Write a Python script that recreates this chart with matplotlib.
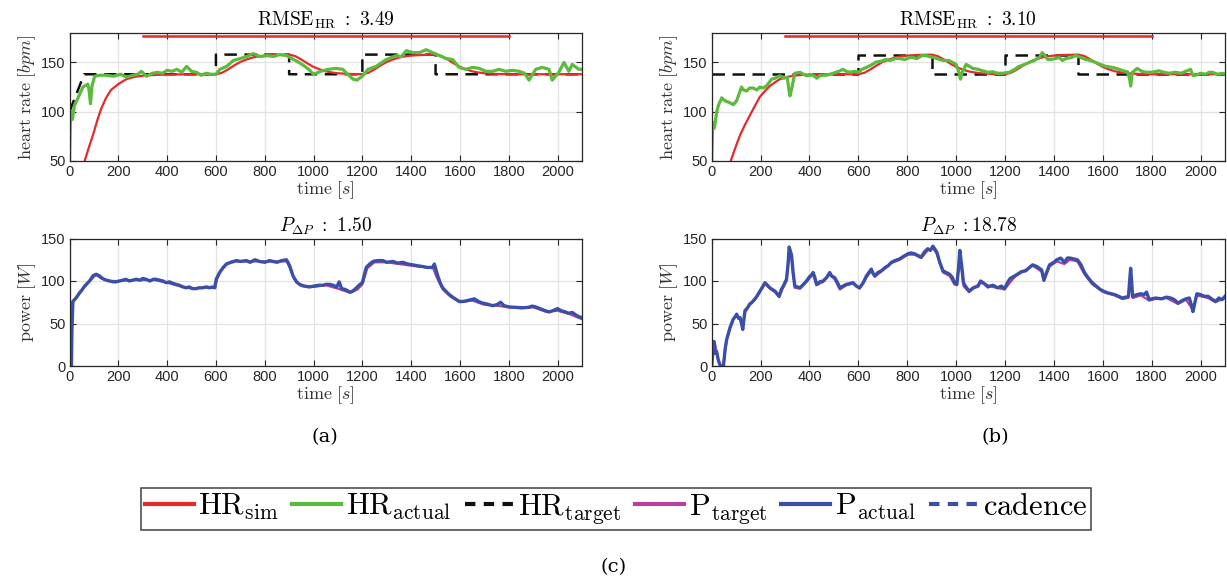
import matplotlib
matplotlib.use("Agg")
import matplotlib.pyplot as plt
from matplotlib.lines import Line2D

plt.rcParams['font.family'] = ['Liberation Sans', 'DejaVu Sans']
plt.rcParams['mathtext.fontset'] = 'cm'

# ---------------- data ----------------
x_ticks = [0, 200, 400, 600, 800, 1000, 1200, 1400, 1600, 1800, 2000]
hr_ticks = [50, 100, 150]
p_ticks = [0, 50, 100, 150]

titles_hr = [r'$\mathrm{RMSE}_{\mathrm{HR}}\ :\ 3.49$', r'$\mathrm{RMSE}_{\mathrm{HR}}\ :\ 3.10$']
titles_p = [r'$P_{\Delta P}\ :\ 1.50$', r'$P_{\Delta P}\ :18.78$']
panel_labels = ['(a)', '(b)', '(c)']

hr_top_t = [300, 1800]
hr_top_v = [177, 177]

# HR target (black dashed)
hr_tgt_left_t = [0, 60, 600, 600, 900, 900, 1200, 1200, 1500, 1500, 2100]
hr_tgt_left_v = [100, 138, 138, 158, 158, 138, 138, 158, 158, 138, 138]
hr_tgt_right_t = [0, 600, 600, 900, 900, 1200, 1200, 1500, 1500, 2100]
hr_tgt_right_v = [138, 138, 158, 158, 138, 138, 158, 158, 138, 138]

# HR simulated (red)
hr_sim_left_t = [55, 80, 96, 115, 130, 150, 170, 200, 233, 270, 300, 350, 400, 500, 600,
                 625, 650, 675, 700, 725, 750, 775, 800, 850, 900,
                 925, 950, 975, 1000, 1025, 1050, 1075, 1100, 1150, 1200,
                 1225, 1250, 1275, 1300, 1325, 1350, 1375, 1400, 1450, 1500,
                 1525, 1550, 1575, 1600, 1625, 1650, 1675, 1700, 1750, 1800, 2100]
hr_sim_left_v = [44, 64, 76, 92, 103, 114, 122, 128, 133, 135.5, 136.5, 137.3, 137.7, 138, 138,
                 139.5, 143, 147, 150.5, 153, 155, 156.3, 157, 157.7, 158,
                 156.5, 153, 149, 145.5, 143, 141, 139.8, 139, 138.3, 138,
                 139.5, 143, 147, 150.5, 153, 155, 156.3, 157, 157.7, 158,
                 156.5, 153, 149, 145.5, 143, 141, 139.8, 139, 138.3, 138, 138]
hr_sim_right_t = [70, 95, 116, 135, 156, 175, 197, 218, 238, 260, 279, 305, 333, 370, 400, 500, 600,
                  625, 650, 675, 700, 725, 750, 775, 800, 850, 900,
                  925, 950, 975, 1000, 1025, 1050, 1075, 1100, 1150, 1200,
                  1225, 1250, 1275, 1300, 1325, 1350, 1375, 1400, 1450, 1500,
                  1525, 1550, 1575, 1600, 1625, 1650, 1675, 1700, 1750, 1800, 2100]
hr_sim_right_v = [44, 62, 76, 86, 96, 105, 115, 121, 126, 130, 133, 135, 136.5, 137.3, 137.8, 138, 138,
                  139.5, 143, 147, 150.5, 153, 155, 156.3, 157, 157.7, 158,
                  156.5, 153, 149, 145.5, 143, 141, 139.8, 139, 138.3, 138,
                  139.5, 143, 147, 150.5, 153, 155, 156.3, 157, 157.7, 158,
                  156.5, 153, 149, 145.5, 143, 141, 139.8, 139, 138.3, 138, 138]

# HR actual (green)
hr_act_left_t = [0, 4, 12, 20, 35, 55, 75, 80, 86, 92, 103, 123, 150, 180, 210, 233, 260, 280, 295, 315,
                 340, 360, 380, 400, 420, 440, 460, 480, 500, 520, 540, 560, 580, 600, 616, 644, 671, 700,
                 725, 753, 781, 810, 836, 860, 890, 918, 940, 959, 980, 1000, 1030, 1060, 1090, 1120, 1140,
                 1162, 1178, 1200, 1223, 1257, 1298, 1339, 1360, 1380, 1407, 1434, 1461, 1488, 1516, 1543,
                 1570, 1597, 1624, 1652, 1679, 1706, 1733, 1760, 1788, 1815, 1842, 1865, 1883, 1910, 1937,
                 1965, 1978, 2005, 2026, 2046, 2060, 2087, 2100]
hr_act_left_v = [50, 100, 92, 106, 114, 125, 128, 122, 108, 126, 136, 137, 137, 136, 138, 135, 137, 138, 141, 136,
                 139, 140, 139, 142, 141, 143, 140, 146, 141, 140, 137, 139, 138, 138, 143, 146, 152, 154,
                 156, 159, 156, 157, 156, 158, 157, 153, 150, 147, 143, 138, 141, 143, 144, 143, 138,
                 133, 132, 136, 143, 146, 153, 157, 156, 162, 160, 160, 163, 160, 157, 154,
                 153, 145, 143, 145, 144, 141, 141, 143, 141, 142, 141, 139, 132, 143, 145,
                 143, 132, 140, 150, 141, 148, 143, 143]
hr_act_right_t = [0, 4, 10, 14, 20, 27, 41, 54, 65, 75, 88, 102, 122, 130, 143, 155, 170, 185, 197, 210, 224,
                  245, 260, 279, 295, 309, 316, 320, 327, 340, 361, 375, 388, 400, 415, 430, 442, 455, 469,
                  483, 497, 520, 537, 550, 565, 585, 601, 615, 633, 650, 673, 690, 714, 730, 750, 769, 790,
                  810, 823, 840, 860, 878, 890, 910, 932, 950, 970, 986, 1000, 1010, 1018, 1025, 1041, 1055,
                  1068, 1090, 1109, 1130, 1150, 1170, 1190, 1218, 1240, 1258, 1280, 1299, 1320, 1340, 1352,
                  1360, 1375, 1388, 1405, 1422, 1435, 1449, 1470, 1490, 1510, 1531, 1550, 1571, 1590, 1612,
                  1640, 1667, 1690, 1701, 1710, 1714, 1721, 1741, 1760, 1776, 1800, 1830, 1850, 1870, 1898,
                  1920, 1940, 1959, 1970, 1980, 2000, 2020, 2035, 2048, 2070, 2090, 2100]
hr_act_right_v = [50, 89, 83, 88, 99, 106, 114, 111, 110, 109, 107, 111, 125, 122, 121, 124, 124, 122, 125, 124, 126,
                  133, 134, 136.5, 134, 135, 122, 116, 123, 139, 140, 138, 136.5, 137, 137, 134, 136.5, 137, 137,
                  138, 139, 141, 143, 141, 140, 141, 140, 143, 145, 147, 150.5, 151, 153, 152, 154, 154, 153,
                  155, 155, 154, 157, 157, 156, 155, 153, 152, 152, 150, 148, 141, 133, 140, 148, 146,
                  144, 143, 141.5, 140, 140.5, 139, 139, 140, 143, 146, 148, 150, 152, 155, 160,
                  158, 153, 153, 154, 155, 152, 154, 155, 157, 155, 153, 152, 150, 148, 146,
                  145, 143, 141, 140.5, 133, 126, 140, 144, 141, 140, 140, 141.5, 140, 139, 140,
                  139, 141, 143, 136.5, 137, 139, 138, 140, 140, 138, 139, 138]

# Power actual (blue) and target (magenta)
p_act_left_t = [0, 8, 10, 14, 27, 41, 50, 62, 72, 82, 96, 109, 123, 135, 150, 165, 180, 191, 205, 220, 232, 245,
                260, 273, 290, 300, 314, 330, 343, 355, 370, 383, 396, 410, 425, 437, 450, 465, 478, 490, 505,
                519, 530, 545, 560, 575, 585, 595, 601, 615, 630, 643, 660, 684, 700, 725, 740, 760, 779, 800,
                820, 834, 850, 870, 889, 895, 902, 916, 930, 943, 960, 984, 1000, 1020, 1039, 1050, 1067, 1080,
                1095, 1105, 1115, 1130, 1148, 1160, 1176, 1190, 1200, 1216, 1230, 1244, 1260, 1284, 1300, 1325,
                1345, 1366, 1385, 1407, 1425, 1448, 1465, 1480, 1488, 1495, 1509, 1520, 1529, 1542, 1556, 1575,
                1597, 1615, 1631, 1645, 1659, 1675, 1692, 1710, 1733, 1750, 1767, 1780, 1801, 1830, 1856, 1880,
                1897, 1915, 1937, 1950, 1965, 1980, 2000, 2015, 2033, 2045, 2060, 2075, 2087, 2100]
p_act_left_v = [0, 0, 42, 76, 80, 86, 89, 94, 97, 100, 106, 108, 106, 103, 101, 100, 99, 99, 100, 101, 102, 100,
                101, 102, 101, 103, 102, 100, 102, 102, 101, 100, 98, 99, 97, 96, 95, 93, 92, 93, 91,
                91, 92, 92, 93, 92, 93, 92, 102, 110, 116, 120, 122, 124, 123, 124, 122, 125, 123, 122,
                124, 123, 122, 124, 125, 122, 118, 106, 99, 96, 94, 93, 94, 95, 95, 96, 96, 95,
                93, 99, 91, 90, 87, 88, 92, 96, 98, 116, 120, 123, 124, 124, 122, 123,
                121, 122, 120, 119, 118, 117, 116, 116, 116, 120, 106, 97, 92, 88, 84, 80,
                76, 76, 77, 78, 79, 76, 74, 73, 71, 72, 75, 71, 69.5, 69, 68.5, 69,
                70.5, 69, 66.5, 65, 63.5, 65, 67.5, 65, 63.5, 62, 63, 60, 58, 57]
p_tgt_left_t = [0, 5, 20, 40, 60, 80, 100, 110, 130, 160, 200, 250, 300, 350, 400, 450, 500, 550, 597, 605, 620,
                645, 680, 750, 850, 890, 905, 920, 945, 1000, 1050, 1100, 1150, 1180, 1200, 1220, 1250, 1300,
                1400, 1490, 1505, 1530, 1560, 1600, 1650, 1700, 1750, 1800, 1850, 1900, 1950, 2000, 2050, 2100]
p_tgt_left_v = [40, 73, 78, 85, 93, 99, 105, 107, 103, 100, 100, 101, 101, 101, 98, 94, 91, 92, 92, 103, 112,
                120, 123, 123, 123, 123, 114, 103, 95, 93, 95, 91, 86, 90, 96, 115, 122, 122,
                118, 115, 104, 90, 82, 75, 77, 72, 71, 69, 68, 69, 64, 65, 61, 55]
p_act_right_t = [0, 5, 9, 14, 20, 27, 33, 37, 48, 55, 61, 68, 75, 88, 96, 102, 110, 116, 122, 127, 136, 145, 156,
                 165, 177, 187, 197, 208, 218, 228, 238, 248, 259, 268, 276, 285, 293, 306, 312, 317, 322, 327,
                 333, 340, 350, 361, 375, 388, 400, 408, 415, 422, 429, 442, 456, 470, 483, 490, 503, 515, 524,
                 537, 551, 565, 578, 592, 605, 620, 633, 643, 653, 660, 667, 680, 694, 710, 722, 735, 750, 769,
                 785, 803, 815, 830, 843, 857, 870, 884, 895, 905, 912, 921, 933, 946, 960, 973, 985, 993, 1003,
                 1010, 1015, 1022, 1030, 1038, 1053, 1070, 1090, 1100, 1115, 1130, 1150, 1170, 1185, 1198, 1210,
                 1221, 1240, 1267, 1285, 1300, 1313, 1330, 1350, 1359, 1370, 1382, 1400, 1412, 1428, 1443, 1455,
                 1466, 1480, 1496, 1511, 1525, 1542, 1557, 1573, 1590, 1603, 1620, 1635, 1649, 1665, 1679, 1695,
                 1705, 1710, 1714, 1718, 1722, 1740, 1756, 1770, 1779, 1790, 1800, 1817, 1840, 1860, 1878, 1893,
                 1908, 1925, 1940, 1954, 1962, 1969, 1977, 1985, 2000, 2015, 2031, 2045, 2061, 2075, 2088, 2100]
p_act_right_v = [0, 18, 29, 15, 17, 7, 2, 0, 0, 20, 31, 38, 45, 55, 58, 61, 56, 57, 50, 43, 65, 68, 73,
                 75, 79, 83, 88, 93, 98, 95, 92, 90, 88, 85, 82, 90, 94, 102, 118, 140, 135, 130,
                 110, 94, 93, 92, 96, 100, 105, 107, 110, 104, 96, 99, 100, 104, 110, 106, 104, 98, 92,
                 94, 96, 97, 98, 94, 92, 98, 106, 110, 114, 109, 106, 110, 112, 116, 118, 122, 124, 126,
                 129, 132, 133, 132, 130, 128, 134, 138, 136, 141, 138, 134, 122, 112, 110, 108, 104, 98, 96,
                 115, 136, 120, 98, 94, 88, 92, 94, 100, 97, 93, 95, 92, 94, 91, 98,
                 103, 106, 111, 112, 116, 119, 117, 113, 101, 110, 119, 122, 125, 127, 122, 127,
                 127, 126, 125, 119, 110, 103, 98, 94, 90, 88, 86, 85, 84, 82, 80, 81,
                 82, 100, 115, 100, 82, 84, 85, 84, 87, 78, 79, 80, 79, 81, 80, 78,
                 74, 77, 79, 80, 72, 64, 75, 85, 84, 82, 82, 79, 76, 80, 78, 82]
p_tgt_right_t = [0, 7, 14, 20, 27, 37, 48, 61, 75, 88, 102, 116, 127, 136, 156, 177, 197, 218, 238, 259, 276,
                 293, 306, 317, 327, 340, 361, 388, 415, 429, 456, 483, 503, 524, 551, 578, 605, 633, 653, 667,
                 694, 735, 769, 803, 830, 857, 884, 905, 921, 946, 973, 993, 1003, 1015, 1030, 1053, 1100, 1150,
                 1198, 1240, 1267, 1313, 1350, 1359, 1382, 1412, 1443, 1466, 1496, 1525, 1557, 1603, 1649, 1679,
                 1705, 1714, 1722, 1756, 1790, 1817, 1860, 1908, 1940, 1969, 1985, 2031, 2061, 2100]
p_tgt_right_v = [23, 19, 26, 17, 7, 0, 2, 30, 46, 55, 60, 56, 45, 63, 72, 78, 87, 97, 91, 87, 81,
                 93, 100, 138, 125, 92, 91, 99, 108, 95, 99, 108, 102, 90, 95, 97, 91, 104, 112, 105,
                 111, 121, 125, 131, 131, 127, 136, 139, 132, 110, 106, 96, 95, 133, 94, 87, 98, 93,
                 90, 105, 110, 118, 111, 100, 117, 123, 120, 125, 123, 108, 96, 87, 83, 79,
                 80, 110, 80, 83, 77, 79, 80, 73, 78, 66, 83, 80, 75, 80]

legend_labels = [r'$\mathrm{HR}_{\mathrm{sim}}$', r'$\mathrm{HR}_{\mathrm{actual}}$', r'$\mathrm{HR}_{\mathrm{target}}$',
                 r'$\mathrm{P}_{\mathrm{target}}$', r'$\mathrm{P}_{\mathrm{actual}}$', r'$\mathrm{cadence}$']

# ---------------- style ----------------
C_RED = '#e52a2a'
C_GREEN = '#5cba3c'
C_BLACK = '#111111'
C_MAG = '#b8409f'
C_BLUE = '#3a50a8'
DASH = (0, (5, 3))

fig = plt.figure(figsize=(12.27, 5.81), dpi=100)

W = 1227.0
H = 581.0
def ax_at(x0, x1, y_top, y_bot):
    return fig.add_axes([x0 / W, 1 - y_bot / H, (x1 - x0) / W, (y_bot - y_top) / H])

ax_hl = ax_at(69.5, 582, 33, 160.7)
ax_pl = ax_at(69.5, 582, 238.5, 366)
ax_hr = ax_at(711.7, 1225, 33, 160.7)
ax_pr = ax_at(711.7, 1225, 238.5, 366)

def style(ax, yt, ylim, ylabel):
    ax.set_xlim(0, 2100)
    ax.set_ylim(*ylim)
    ax.set_xticks(x_ticks)
    ax.set_yticks(yt)
    ax.grid(True, color='#e2e2e2', linewidth=0.9)
    ax.set_axisbelow(True)
    ax.tick_params(direction='in', top=True, right=True, length=4, width=0.8,
                   labelsize=10.5, colors='#262626', pad=3)
    for s in ax.spines.values():
        s.set_linewidth(0.9)
        s.set_color('#262626')
    ax.set_xlabel(r'$\mathrm{time}\ [s]$', fontsize=13, labelpad=0, color='#333333')
    ax.set_ylabel(ylabel, fontsize=13, labelpad=2, color='#333333')

for ax, title in [(ax_hl, titles_hr[0]), (ax_hr, titles_hr[1])]:
    style(ax, hr_ticks, (50, 180), r'$\mathrm{heart\ rate}\ [bpm]$')
    ax.set_title(title, fontsize=14, pad=5)

for ax, title in [(ax_pl, titles_p[0]), (ax_pr, titles_p[1])]:
    style(ax, p_ticks, (0, 150), r'$\mathrm{power}\ [W]$')
    ax.set_title(title, fontsize=14, pad=5)

# HR panels
ax_hl.plot(hr_top_t, hr_top_v, color=C_RED, lw=1.8)
ax_hl.plot(hr_tgt_left_t, hr_tgt_left_v, color=C_BLACK, lw=1.8, linestyle=DASH)
ax_hl.plot(hr_sim_left_t, hr_sim_left_v, color=C_RED, lw=1.6)
ax_hl.plot(hr_act_left_t, hr_act_left_v, color=C_GREEN, lw=2.3)

ax_hr.plot(hr_top_t, hr_top_v, color=C_RED, lw=1.8)
ax_hr.plot(hr_tgt_right_t, hr_tgt_right_v, color=C_BLACK, lw=1.8, linestyle=DASH)
ax_hr.plot(hr_sim_right_t, hr_sim_right_v, color=C_RED, lw=1.6)
ax_hr.plot(hr_act_right_t, hr_act_right_v, color=C_GREEN, lw=2.3)

# power panels
ax_pl.plot(p_tgt_left_t, p_tgt_left_v, color=C_MAG, lw=1.6)
ax_pl.plot(p_act_left_t, p_act_left_v, color=C_BLUE, lw=2.4)
ax_pr.plot(p_tgt_right_t, p_tgt_right_v, color=C_MAG, lw=1.6)
ax_pr.plot(p_act_right_t, p_act_right_v, color=C_BLUE, lw=2.4)

# panel labels
fig.text(325 / W, 1 - 437 / H, panel_labels[0], ha='center', va='center', fontsize=14, family='DejaVu Serif')
fig.text(995 / W, 1 - 437 / H, panel_labels[1], ha='center', va='center', fontsize=14, family='DejaVu Serif')
fig.text(614 / W, 1 - 567 / H, panel_labels[2], ha='center', va='center', fontsize=14, family='DejaVu Serif')

# legend
handles = [Line2D([], [], color=C_RED, lw=3),
           Line2D([], [], color=C_GREEN, lw=3),
           Line2D([], [], color=C_BLACK, lw=3, linestyle=(0, (2.5, 2))),
           Line2D([], [], color=C_MAG, lw=3),
           Line2D([], [], color=C_BLUE, lw=3),
           Line2D([], [], color=C_BLUE, lw=3, linestyle=(0, (2.5, 2)))]
leg = fig.legend(handles, legend_labels, loc='center', bbox_to_anchor=(616 / W, 1 - 509 / H), ncol=6,
                 fontsize=22, frameon=True, fancybox=False, edgecolor='#222222', handlelength=1.6,
                 handletextpad=0.15, columnspacing=0.45, borderpad=0.12, borderaxespad=0)
leg.get_frame().set_linewidth(1.2)

fig.savefig('out.png', dpi=100)
